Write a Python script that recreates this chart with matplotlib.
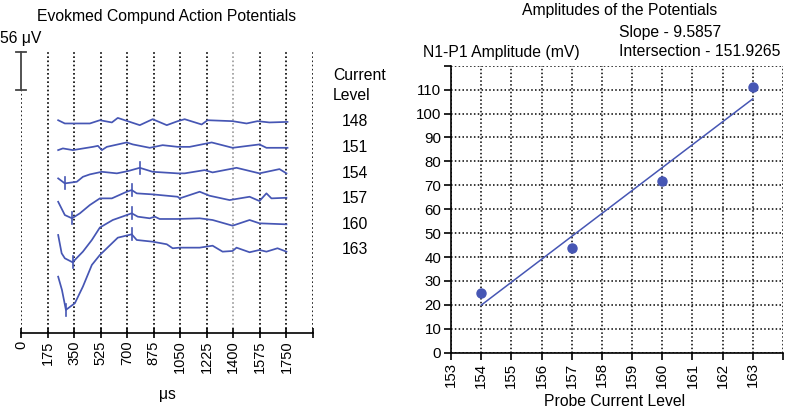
import numpy as np
import matplotlib.pyplot as plt

plt.rcParams['font.family'] = ['Liberation Sans', 'DejaVu Sans']

# evoked potentials, time in us, amplitude in uV (relative to each trace baseline)
levels = [148, 151, 154, 157, 160, 163]
t148 = [245, 289, 454, 520, 599, 638, 783, 868, 961, 1033, 1079, 1191, 1230, 1395, 1487, 1559, 1638, 1757]
a148 = [2.9, -1.9, -1.9, 2.9, -0.4, 6.3, -4.4, 4.4, -4.4, 1.5, 4.4, -3.4, 2.9, 1.5, -1.9, 1.5, -0.4, 0.4]
t151 = [245, 276, 342, 474, 507, 533, 566, 697, 737, 849, 934, 1033, 1112, 1257, 1395, 1572, 1618, 1757]
a151 = [-3.5, -1.0, -3.5, 1.3, 2.8, -3.5, 1.3, 7.8, 4.9, -0.1, 3.8, 1.3, 1.3, 7.8, -0.1, 4.9, -0.1, -0.1]
t154 = [245, 289, 368, 408, 454, 533, 632, 704, 783, 868, 1033, 1079, 1211, 1263, 1421, 1572, 1704, 1750]
a154 = [-7.5, -14.9, -12.5, -5.2, -1.6, 2.2, -0.1, 3.2, 8.1, 2.2, -0.1, -0.1, 4.7, 1.3, 8.1, -0.1, 6.2, -0.1]
t157 = [245, 289, 336, 388, 454, 520, 599, 697, 730, 763, 868, 1033, 1046, 1178, 1243, 1375, 1507, 1572, 1618, 1651, 1750]
a157 = [-4.3, -23.9, -28.7, -21.4, -9.1, 0.7, 0.7, 10.5, 13.0, 8.1, 6.6, 3.1, 0.7, 10.5, 4.6, -1.8, 3.1, -3.2, 8.1, 0.7, 1.6]
t160 = [245, 268, 289, 340, 408, 467, 520, 605, 730, 770, 849, 882, 914, 1033, 1178, 1263, 1395, 1507, 1572, 1750]
a160 = [-15.6, -42.6, -50.0, -55.9, -40.2, -23.0, -4.6, 6.5, 16.4, 11.4, 9.0, 11.4, 8.0, 8.0, 9.0, 6.5, -1.9, 6.5, 1.6, 0.1]
t163 = [245, 270, 296, 355, 408, 467, 520, 638, 730, 763, 868, 961, 1000, 1046, 1178, 1263, 1329, 1395, 1421, 1507, 1572, 1618, 1691, 1750]
a163 = [-39.4, -59.0, -88.4, -78.6, -54.1, -22.1, -7.4, 18.1, 23.1, 14.7, 12.2, 8.4, 2.5, 3.4, 3.4, 6.3, -2.5, -1.5, 3.4, -3.4, 0.0, -2.5, 2.5, -2.5]
trace_t = [t148, t151, t154, t157, t160, t163]
trace_a = [a148, a151, a154, a157, a160, a163]
# N1 / P1 marker times (None where not marked)
n1_time = [None, None, 289, 336, 340, 296]
p1_time = [None, None, 783, 730, 730, 730]
scale_uv = 56
time_ticks = list(range(0, 1926, 175))

# amplitude plot
probe_level = [154, 157, 160, 163]
amplitude = [25.0, 43.7, 72.0, 111.1]
slope = 9.5857
intersection = 151.9265

blue = '#4656b4'
W, H = 785, 412
fig = plt.figure(figsize=(W / 100, H / 100), dpi=100)


def fx(px):
    return px / W


def fy(py):
    return 1 - py / H


# ---- left panel
ax = fig.add_axes([fx(21), fy(333), fx(313) - fx(21), fy(51) - fy(333)])
ax.set_xlim(0, 1925)
ax.set_ylim(0, 416)
for s in ['left', 'right', 'top']:
    ax.spines[s].set_visible(False)
ax.spines['bottom'].set_linewidth(1.2)
ax.set_yticks([])
ax.set_xticks(time_ticks)
ax.set_xticklabels([str(t) if t < 1900 else '' for t in time_ticks], rotation=90, fontsize=10.5)
ax.tick_params(axis='x', direction='inout', length=7, width=1.2, pad=2)

for t in time_ticks:
    col = '#999999' if t == 1400 else 'black'
    top = 358 if t == 0 else 416
    ax.vlines(t, 0, top, colors=col, linestyles=(0, (1, 1.5)), linewidth=1.2, zorder=1)

# scale bar
ax.plot([0, 0], [358, 358 + scale_uv], color='#444444', lw=1.3, zorder=3, clip_on=False)
for yy in [358, 358 + scale_uv]:
    ax.plot([-35, 35], [yy, yy], color='#444444', lw=1.3, zorder=3, clip_on=False)

spacing = 37.7
for i, lev in enumerate(levels):
    off = 311 - spacing * i
    tt = np.array(trace_t[i])
    aa = np.array(trace_a[i]) + off
    ax.plot(tt, aa, color=blue, lw=1.25, zorder=4, solid_joinstyle='round')
    for mt in [n1_time[i], p1_time[i]]:
        if mt is not None:
            yv = np.interp(mt, tt, aa)
            ax.plot([mt, mt], [yv - 9, yv + 9], color=blue, lw=1.2, zorder=4)
    fig.text(fx(355), fy(122 + 25.6 * i), str(lev), ha='center', va='center', fontsize=11.3)

fig.text(fx(167), fy(17), 'Evokmed Compund Action Potentials', ha='center', va='center', fontsize=11.3)
fig.text(fx(0), fy(38), '56 \u03bcV', ha='left', va='center', fontsize=11.3)
fig.text(fx(333), fy(76), 'Current', ha='left', va='center', fontsize=11.3)
fig.text(fx(333), fy(96), 'Level', ha='left', va='center', fontsize=11.3)
fig.text(fx(167), fy(395), '\u03bcs', ha='center', va='center', fontsize=11.3)

# ---- right panel
ax2 = fig.add_axes([fx(451), fy(352.7), fx(783) - fx(451), fy(65.7) - fy(352.7)])
ax2.set_xlim(153, 164)
ax2.set_ylim(0, 120)
xt = list(range(153, 165))
yt = list(range(0, 121, 10))
ax2.set_xticks(xt)
ax2.set_xticklabels([str(v) if v < 164 else '' for v in xt], rotation=90, fontsize=10.8)
ax2.set_yticks(yt)
ax2.set_yticklabels([str(v) if v < 120 else '' for v in yt], fontsize=10.8)
ax2.tick_params(direction='out', length=5, width=1.2, pad=2)
for s in ['right', 'top']:
    ax2.spines[s].set_visible(False)
for s in ['left', 'bottom']:
    ax2.spines[s].set_linewidth(1.2)
ax2.grid(True, color='black', linestyle=(0, (1, 1.5)), linewidth=1.1)
ax2.set_axisbelow(True)

fit_x = np.array([probe_level[0], probe_level[-1]])
ax2.plot(fit_x, slope * (fit_x - intersection), color=blue, lw=1.1, zorder=3)
ax2.plot(probe_level, amplitude, 'o', color=blue, ms=6.5, zorder=4)

fig.text(fx(620), fy(10), 'Amplitudes of the Potentials', ha='center', va='center', fontsize=11.3)
fig.text(fx(619), fy(33), 'Slope - %.4f' % slope, ha='left', va='center', fontsize=11.3)
fig.text(fx(619), fy(52), 'Intersection - %.4f' % intersection, ha='left', va='center', fontsize=11.3)
fig.text(fx(423), fy(52), 'N1-P1 Amplitude (mV)', ha='left', va='center', fontsize=11.3)
fig.text(fx(615), fy(402), 'Probe Current Level', ha='center', va='center', fontsize=11.3)

fig.savefig('out.png', dpi=100)
